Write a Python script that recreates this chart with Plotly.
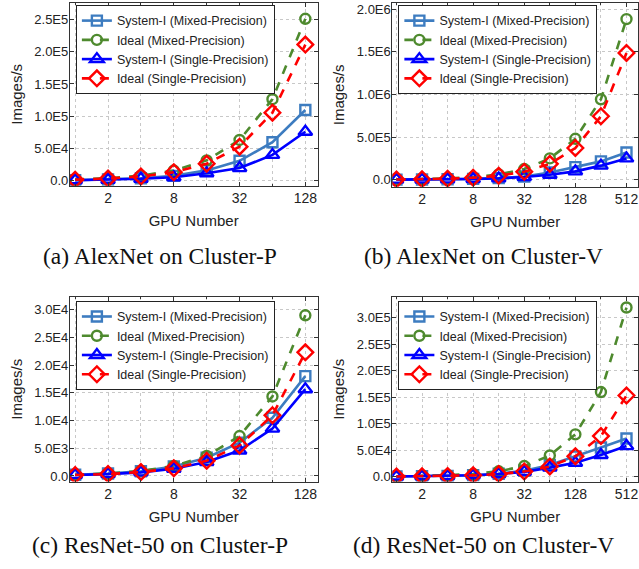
import plotly.graph_objects as go
import math

# ---------------- data ----------------
gpus_p = [1, 2, 4, 8, 16, 32, 64, 128]
gpus_v = [1, 2, 4, 8, 16, 32, 64, 128, 256, 512]

series_names = ["System-I (Mixed-Precision)", "Ideal (Mixed-Precision)",
                "System-I (Single-Precision)", "Ideal (Single-Precision)"]

# (a) AlexNet on Cluster-P
alex_p_sys_mixed = [950, 1900, 3800, 7500, 16000, 30900, 59700, 109600]
alex_p_ideal_mixed = [1975, 3950, 7900, 15800, 31600, 63200, 126400, 251000]
alex_p_sys_single = [800, 1500, 3000, 5500, 11500, 19600, 40000, 76000]
alex_p_ideal_single = [1650, 3300, 6600, 13200, 26400, 52800, 105500, 211000]

# (b) AlexNet on Cluster-V
alex_v_sys_mixed = [1300, 2500, 4800, 9500, 19000, 38000, 85000, 148000, 215000, 320000]
alex_v_ideal_mixed = [3700, 7500, 15000, 30000, 62000, 125000, 250000, 480000, 944000, 1885000]
alex_v_sys_single = [1000, 1900, 3700, 7500, 15000, 31000, 58000, 98000, 165000, 250000]
alex_v_ideal_single = [2900, 5800, 11600, 23300, 46500, 93000, 186000, 372000, 745000, 1488000]

# (c) ResNet-50 on Cluster-P
res_p_sys_mixed = [215, 430, 850, 1700, 3300, 6000, 10500, 18000]
res_p_ideal_mixed = [225, 450, 900, 1800, 3600, 7200, 14340, 28980]
res_p_sys_single = [170, 330, 650, 1300, 2500, 4590, 8540, 15650]
res_p_ideal_single = [172, 345, 690, 1370, 2750, 5490, 10940, 22300]

# (d) ResNet-50 on Cluster-V
res_v_sys_mixed = [350, 700, 1400, 2700, 5500, 11000, 22000, 38000, 55000, 71800]
res_v_ideal_mixed = [623, 1250, 2500, 5000, 10000, 19900, 39900, 79700, 159500, 319000]
res_v_sys_single = [310, 620, 1250, 2500, 5000, 9000, 17000, 26300, 40700, 57600]
res_v_ideal_single = [300, 600, 1200, 2400, 4800, 9600, 19100, 38300, 76500, 153000]

x_tick_vals_p = [2, 8, 32, 128]
x_tick_vals_v = [2, 8, 32, 128, 512]
x_minor_vals_p = [1, 4, 16, 64]
x_minor_vals_v = [1, 4, 16, 64, 256]

y_ticks_a = [0, 50000, 100000, 150000, 200000, 250000]
y_labels_a = ["0.0", "5.0E4", "1.0E5", "1.5E5", "2.0E5", "2.5E5"]
y_ticks_b = [0, 500000, 1000000, 1500000, 2000000]
y_labels_b = ["0.0", "5.0E5", "1.0E6", "1.5E6", "2.0E6"]
y_ticks_c = [0, 5000, 10000, 15000, 20000, 25000, 30000]
y_labels_c = ["0.0", "5.0E3", "1.0E4", "1.5E4", "2.0E4", "2.5E4", "3.0E4"]
y_ticks_d = [0, 50000, 100000, 150000, 200000, 250000, 300000]
y_labels_d = ["0.0", "5.0E4", "1.0E5", "1.5E5", "2.0E5", "2.5E5", "3.0E5"]

captions = ["(a) AlexNet on Cluster-P", "(b) AlexNet on Cluster-V",
            "(c) ResNet-50 on Cluster-P", "(d) ResNet-50 on Cluster-V"]

# ---------------- styling ----------------
W, H = 639, 569
colors = ["#3D7CC0", "#4E8A2E", "#0000FF", "#FF0000"]
symbols = ["square-open", "circle-open", "triangle-up-open", "diamond-open"]
dashes = ["solid", "dash", "solid", "dash"]
msizes = [10, 10, 12, 12]
SANS = "Liberation Sans, Arial, sans-serif"
SERIF = "Liberation Serif, Times New Roman, serif"
TXT = "#222222"

def px_x(p):
    return p / W

def px_y(p):
    return 1 - p / H

panels = [
    dict(x=gpus_p, ys=[alex_p_sys_mixed, alex_p_ideal_mixed, alex_p_sys_single, alex_p_ideal_single],
         xd=[70, 318], yd=[186, 2], yr=[-7700, 275500], yt=(y_ticks_a, y_labels_a),
         xt=x_tick_vals_p, xm=x_minor_vals_p, xr=[-0.16, 7.37], leg=(76, 4), cap=(160, 257)),
    dict(x=gpus_v, ys=[alex_v_sys_mixed, alex_v_ideal_mixed, alex_v_sys_single, alex_v_ideal_single],
         xd=[393, 639], yd=[187, 2], yr=[-82000, 2074000], yt=(y_ticks_b, y_labels_b),
         xt=x_tick_vals_v, xm=x_minor_vals_v, xr=[-0.16, 9.45], leg=(399, 4), cap=(484, 257)),
    dict(x=gpus_p, ys=[res_p_sys_mixed, res_p_ideal_mixed, res_p_sys_single, res_p_ideal_single],
         xd=[70, 318], yd=[484, 298], yr=[-1020, 32300], yt=(y_ticks_c, y_labels_c),
         xt=x_tick_vals_p, xm=x_minor_vals_p, xr=[-0.16, 7.37], leg=(76, 302), cap=(160, 548)),
    dict(x=gpus_v, ys=[res_v_sys_mixed, res_v_ideal_mixed, res_v_sys_single, res_v_ideal_single],
         xd=[393, 639], yd=[484, 298], yr=[-9400, 339000], yt=(y_ticks_d, y_labels_d),
         xt=x_tick_vals_v, xm=x_minor_vals_v, xr=[-0.16, 9.45], leg=(399, 302), cap=(484, 548)),
]

fig = go.Figure()
layout = dict(width=W, height=H, margin=dict(l=0, r=0, t=0, b=0),
              paper_bgcolor="white", plot_bgcolor="white",
              font=dict(family=SANS, size=13, color=TXT),
              annotations=[])

grid = dict(gridcolor="#C8C8C8", griddash="dot", gridwidth=1)

for i, p in enumerate(panels):
    k = "" if i == 0 else str(i + 1)
    xa, ya = "x" + k, "y" + k
    legname = "legend" + k
    for j in range(4):
        fig.add_trace(go.Scatter(
            x=p["x"], y=p["ys"][j], name=series_names[j], xaxis=xa, yaxis=ya,
            mode="lines+markers", legend=legname, cliponaxis=True,
            line=dict(color=colors[j], width=2.6, dash=dashes[j]),
            marker=dict(symbol=symbols[j], size=msizes[j], color=colors[j],
                        line=dict(width=2.4, color=colors[j])),
        ))
    layout["xaxis" + k] = dict(
        type="log", domain=[px_x(p["xd"][0]), px_x(p["xd"][1])], anchor=ya,
        range=[math.log10(2 ** p["xr"][0]), math.log10(2 ** p["xr"][1])],
        tickmode="array", tickvals=p["xt"], ticktext=[str(v) for v in p["xt"]],
        ticks="inside", ticklen=4, tickcolor="#333333",
        showline=True, linecolor="#333333", linewidth=1, mirror="ticks",
        showgrid=True, **grid,
        minor=dict(tickmode="array", tickvals=p["xm"], ticks="inside", ticklen=2,
                   tickcolor="#333333", showgrid=True, **grid),
        tickfont=dict(size=14, family=SANS, color=TXT),
        title=dict(text="GPU Number", font=dict(size=15, family=SANS, color=TXT), standoff=10),
        zeroline=False,
    )
    layout["yaxis" + k] = dict(
        domain=[px_y(p["yd"][0]), px_y(p["yd"][1])], anchor=xa, range=p["yr"],
        tickmode="array", tickvals=p["yt"][0], ticktext=p["yt"][1],
        ticks="inside", ticklen=4, tickcolor="#333333",
        showline=True, linecolor="#333333", linewidth=1, mirror="ticks",
        showgrid=True, **grid, zeroline=False,
        tickfont=dict(size=13, family=SANS, color=TXT), ticklabelstandoff=-2,
        title=dict(text="Images/s", font=dict(size=15, family=SANS, color=TXT), standoff=8),
    )
    layout[legname] = dict(
        x=px_x(p["leg"][0]), y=px_y(p["leg"][1]), xanchor="left", yanchor="top",
        xref="paper", yref="paper",
        bgcolor="white", bordercolor=TXT, borderwidth=1,
        font=dict(size=12.5, family=SANS, color=TXT),
        itemwidth=30, tracegroupgap=0,
    )
    layout["annotations"].append(dict(
        text=captions[i], x=px_x(p["cap"][0]), y=px_y(p["cap"][1]),
        xref="paper", yref="paper", xanchor="center", yanchor="middle",
        showarrow=False, font=dict(family=SERIF, size=23.5, color="#111111"),
    ))

fig.update_layout(**layout)
fig.write_html("out.html", config={"displayModeBar": False},
               post_script="document.body.style.margin='0';document.body.style.overflow='hidden';")
